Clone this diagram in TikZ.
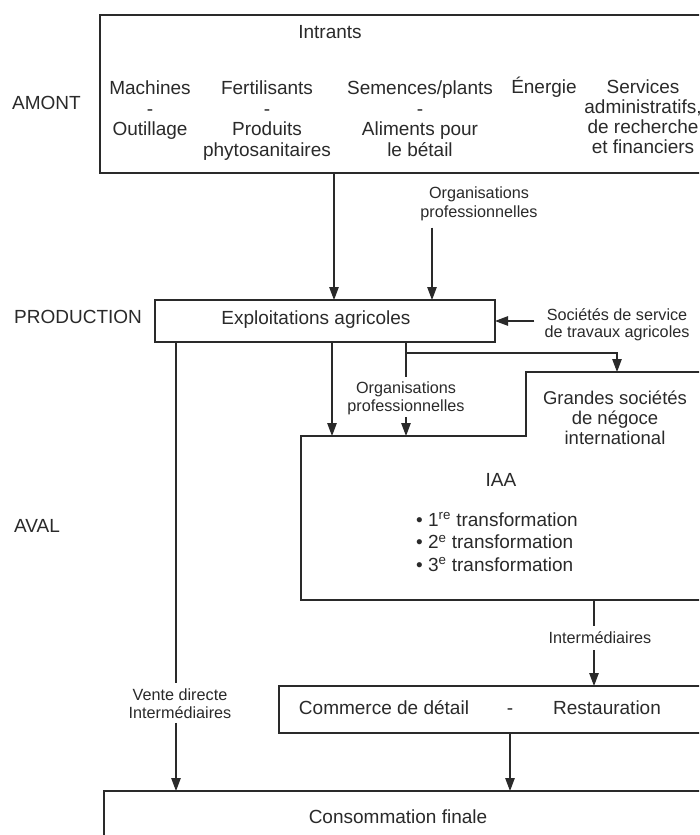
\documentclass[tikz,border=0pt]{standalone}
\usepackage{fontspec}
\setmainfont{Liberation Sans}
\usetikzlibrary{arrows.meta}
\definecolor{ink}{HTML}{2A2A2A}
\newcommand{\bigsz}{\fontsize{19}{20.5}\selectfont}
\newcommand{\smsz}{\fontsize{16.2}{18}\selectfont}
\begin{document}
\begin{tikzpicture}[x=1pt,y=-1pt]
\tikzset{
  box/.style={draw=ink, line width=1.1pt, inner sep=0pt, outer sep=0pt, rectangle},
  txt/.style={font=\bigsz, text=ink, align=center, inner sep=0pt, anchor=base},
  lbl/.style={font=\smsz, text=ink, align=center, inner sep=0pt, anchor=base},
  conn/.style={draw=ink, line width=1.1pt},
  arr/.style={conn, -{Triangle[length=13pt,width=9.5pt]}},
}
\useasboundingbox (0,0) rectangle (699,835);
\fill[white] (0,0) rectangle (699,835);
\clip (0,0) rectangle (699,835);

% boxes
\node[box, minimum width=640pt, minimum height=158pt] (intr) at (420,94) {};
\node[box, minimum width=340pt, minimum height=42pt] (expl) at (325,321) {};
\node[box, minimum width=461pt, minimum height=47pt] (comm) at (509.5,709.5) {};
\node[box, minimum width=636pt, minimum height=79pt] (conso) at (422,830.5) {};
\coordinate (iaaNW) at (301,436);
\coordinate (stepB) at (526,436);
\coordinate (stepT) at (526,372);
\coordinate (gNE) at (740,372);
\coordinate (iaaSW) at (301,600);
\coordinate (iaaSE) at (740,600);
\draw[conn] (gNE) -- (stepT) -- (stepB) -- (iaaNW) -- (iaaSW) -- (iaaSE);

% side labels
\node[txt, anchor=base west] (amont) at (12,109) {AMONT};
\node[txt, anchor=base west] (prod) at (14,323) {PRODUCTION};
\node[txt, anchor=base west] (aval) at (14,532) {AVAL};

% intrants texts (base = baseline of the last line)
\node[txt] (tIntr) at (330,38) {Intrants};
\node[txt] (tMach) at (150,135.5) {Machines\\-\\Outillage};
\node[txt] (tFert) at (267,156) {Fertilisants\\-\\Produits\\phytosanitaires};
\node[txt] (tSem) at (420,156) {Semences/plants\\-\\Aliments pour\\le bétail};
\node[txt] (tEn) at (544,93) {Énergie};
\node[txt, font=\fontsize{19}{20}\selectfont] (tServ) at (643,153) {Services\\administratifs,\\de recherche\\et financiers};

% other texts
\node[txt] (tExpl) at (316,324.5) {Exploitations agricoles};
\node[lbl, font=\fontsize{16.2}{19}\selectfont] (org1) at (479,217) {Organisations\\professionnelles};
\node[lbl, font=\fontsize{16.2}{17.5}\selectfont] (soc) at (617,337.5) {Sociétés de service\\de travaux agricoles};
\node[lbl] (org2) at (406,411) {Organisations\\professionnelles};
\node[txt, font=\fontsize{18.5}{20}\selectfont] (grand) at (615,444) {Grandes sociétés\\de négoce\\international};
\node[txt] (tIAA) at (501,486) {IAA};
\node[txt, align=left, anchor=base west, font=\fontsize{19}{22.5}\selectfont] (bul) at (416,571)
  {• 1\textsuperscript{re} transformation\\• 2\textsuperscript{e} transformation\\• 3\textsuperscript{e} transformation};
\node[lbl] (inter) at (600,643) {Intermédiaires};
\node[lbl] (vd) at (180,718) {Vente directe\\Intermédiaires};
\node[txt] (tComm) at (384,714.5) {Commerce de détail};
\node[txt] (tDash) at (510,714.5) {-};
\node[txt] (tRest) at (607,714.5) {Restauration};
\node[txt] (tConso) at (398,823.5) {Consommation finale};

% connectors
\coordinate (x1) at (334,0);
\draw[arr] (x1 |- intr.south) -- (x1 |- expl.north);
\coordinate (x2) at (432,0);
\draw[arr, shorten <=7pt] (x2 |- org1.south) -- (x2 |- expl.north);
\draw[arr, shorten <=10pt] (soc.west |- expl.east) -- (expl.east);
\coordinate (xL) at (176,0);
\draw[conn, shorten >=5pt] (xL |- expl.south) -- (xL |- vd.north);
\draw[arr, shorten <=4.5pt] (xL |- vd.south) -- (xL |- conso.north);
\coordinate (x3) at (332,0);
\draw[arr] (x3 |- expl.south) -- (x3 |- iaaNW);
\coordinate (x4) at (406,0);
\draw[conn, shorten >=4.5pt] (x4 |- expl.south) -- (x4 |- org2.north);
\draw[arr, shorten <=2.5pt] (x4 |- org2.south) -- (x4 |- iaaNW);
\coordinate (br) at (406,353);
\coordinate (gArr) at (617,353);
\draw[arr] (br) -- (gArr) -- (gArr |- stepT);
\coordinate (x5) at (594,0);
\draw[conn, shorten >=4.5pt] (x5 |- iaaSE) -- (x5 |- inter.north);
\draw[arr, shorten <=7pt] (x5 |- inter.south) -- (x5 |- comm.north);
\coordinate (x6) at (510,0);
\draw[arr] (x6 |- comm.south) -- (x6 |- conso.north);
\end{tikzpicture}
\end{document}
